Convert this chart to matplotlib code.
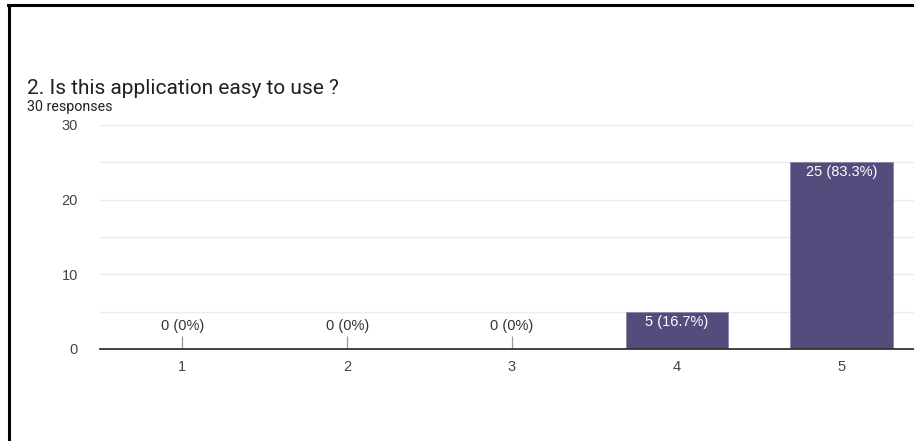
import matplotlib.pyplot as plt
from matplotlib.lines import Line2D

plt.rcParams['font.family'] = ['Liberation Sans', 'DejaVu Sans']

categories = ['1', '2', '3', '4', '5']
counts = [0, 0, 0, 5, 25]
labels = ['0 (0%)', '0 (0%)', '0 (0%)', '5 (16.7%)', '25 (83.3%)']
title = '2. Is this application easy to use ?'
subtitle = '30 responses'

fig = plt.figure(figsize=(9.14, 4.41), dpi=100)
ax = fig.add_axes([100 / 914, 92 / 441, 814 / 914, 224 / 441])

x = list(range(1, len(categories) + 1))
ax.bar(x, counts, width=0.62, color='#544c7c', edgecolor='#8a84a8', linewidth=0.6, zorder=3)

for xi, c, lab in zip(x, counts, labels):
    if c == 0:
        ax.vlines(xi, 0, 1.8, color='#999999', linewidth=0.9, zorder=3)
        ax.text(xi, 2.2, lab, ha='center', va='bottom', fontsize=10.5, color='#333333')
    else:
        ax.text(xi, c - 0.4, lab, ha='center', va='top', fontsize=10.5, color='white', zorder=4)

ax.set_xlim(0.5, 5.44)
ax.set_ylim(0, 30)
ax.set_xticks(x)
ax.set_xticklabels(categories)
ax.set_yticks([0, 10, 20, 30])
ax.set_yticks([5, 15, 25], minor=True)
ax.tick_params(axis='both', which='both', length=0, labelsize=10.5, labelcolor='#444444')
ax.tick_params(axis='y', which='both', pad=16)
ax.tick_params(axis='x', pad=8)
ax.grid(axis='y', which='both', color='#ebebeb', linewidth=1, zorder=0)
for s in ['top', 'right', 'left']:
    ax.spines[s].set_visible(False)
ax.spines['bottom'].set_color('#333333')
ax.spines['bottom'].set_linewidth(1.3)
ax.spines['bottom'].set_zorder(5)

fig.text(27 / 914, 1 - 94 / 441, title, fontsize=15, color='#202124', ha='left', va='baseline',
         family=['Roboto', 'DejaVu Sans'])
fig.text(27 / 914, 1 - 111 / 441, subtitle, fontsize=10.3, color='#202124', ha='left', va='baseline',
         family=['Roboto', 'DejaVu Sans'])

# screenshot frame
fig.add_artist(Line2D([9 / 914, 9 / 914], [0, 1 - 5 / 441], color='black', linewidth=2.2))
fig.add_artist(Line2D([8 / 914, 1], [1 - 5 / 441, 1 - 5 / 441], color='black', linewidth=2.2))

fig.savefig('out.png', dpi=100)
